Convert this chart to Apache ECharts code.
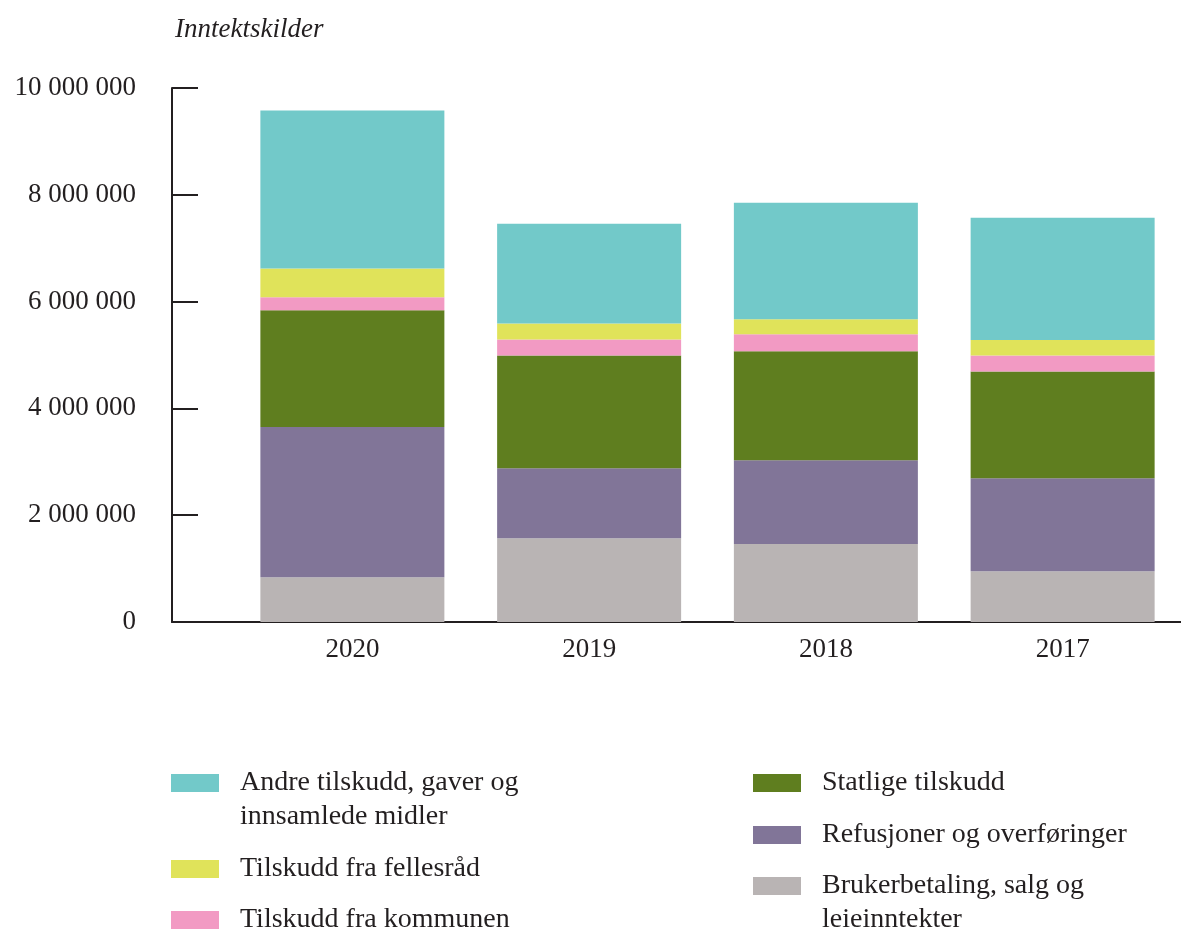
<!DOCTYPE html>
<html>
<head>
  <meta charset="utf-8">
  <title>Inntektskilder</title>
  <script src="https://cdn.jsdelivr.net/npm/echarts@6/dist/echarts.min.js"></script>
  <style>
    html, body { margin: 0; padding: 0; background: #fff; }
  </style>
</head>
<body>
<div id="main" style="width: 1181px;height:931px;"></div>
<script type="text/javascript">
  // data, stacked from the bottom
  var years = ['2020', '2019', '2018', '2017'];
  var seriesNames = [
    'Brukerbetaling, salg og leieinntekter',
    'Refusjoner og overføringer',
    'Statlige tilskudd',
    'Tilskudd fra kommunen',
    'Tilskudd fra fellesråd',
    'Andre tilskudd, gaver og innsamlede midler'
  ];
  var brukerbetaling = [840000, 1570000, 1460000, 950000];
  var refusjoner     = [2810000, 1310000, 1570000, 1740000];
  var statlige       = [2190000, 2110000, 2040000, 2000000];
  var kommunen       = [240000, 300000, 320000, 300000];
  var fellesraad     = [540000, 300000, 280000, 290000];
  var andre          = [2960000, 1870000, 2180000, 2290000];
  var yTicks = [0, 2000000, 4000000, 6000000, 8000000, 10000000];

  var seriesData = [brukerbetaling, refusjoner, statlige, kommunen, fellesraad, andre];
  var colors = ['#b9b4b4', '#817598', '#5f7e1f', '#f29ac3', '#e0e35a', '#72c9c9'];
  // leading blank line keeps the swatch level with the first text line
  var legendText = {
    'Andre tilskudd, gaver og innsamlede midler': '\nAndre tilskudd, gaver og\ninnsamlede midler',
    'Brukerbetaling, salg og leieinntekter': '\nBrukerbetaling, salg og\nleieinntekter'
  };

  var ink = '#231f20';
  var font = '"Liberation Serif", "DejaVu Serif", serif';

  // one legend per entry: [series index, left, top]
  var legendLayout = [
    [5, 171, 732],
    [4, 171, 852],
    [3, 171, 903],
    [2, 753, 766],
    [1, 753, 818],
    [0, 753, 835]
  ];

  var myChart = echarts.init(document.getElementById('main'));

  var option = {
    animation: false,
    title: {
      text: 'Inntektskilder',
      left: 170,
      top: 11,
      textStyle: { fontFamily: font, fontStyle: 'italic', fontWeight: 'normal', fontSize: 27, color: ink }
    },
    grid: [
      { left: 234, right: 0, top: 88, bottom: 309 },
      { left: 172, right: 0, top: 88, bottom: 309 }
    ],
    xAxis: [
      {
        type: 'category',
        gridIndex: 0,
        data: years,
        axisLine: { show: false },
        axisTick: { show: false },
        axisLabel: { fontFamily: font, fontSize: 27, color: ink, margin: 14 }
      },
      {
        type: 'value',
        gridIndex: 1,
        axisLine: { show: true, lineStyle: { color: ink, width: 2 } },
        axisTick: { show: false },
        axisLabel: { show: false },
        splitLine: { show: false }
      }
    ],
    yAxis: [
      {
        type: 'value',
        gridIndex: 0,
        min: yTicks[0],
        max: yTicks[yTicks.length - 1],
        show: false
      },
      {
        type: 'value',
        gridIndex: 1,
        min: yTicks[0],
        max: yTicks[yTicks.length - 1],
        interval: yTicks[1] - yTicks[0],
        axisLine: { show: true, lineStyle: { color: ink, width: 2 } },
        axisTick: { show: true, inside: true, length: 26, lineStyle: { color: ink, width: 2 } },
        splitLine: { show: false },
        axisLabel: {
          fontFamily: font, fontSize: 27, color: ink, margin: 36,
          formatter: function (v) {
            return String(v).replace(/\B(?=(\d{3})+(?!\d))/g, ' ');
          }
        }
      }
    ],
    legend: legendLayout.map(function (l) {
      return {
        data: [seriesNames[l[0]]],
        left: l[1],
        top: l[2],
        padding: 0,
        icon: 'rect',
        itemWidth: 48,
        itemHeight: 18,
        selectedMode: false,
        formatter: function (n) { return legendText[n] || n; },
        textStyle: {
          fontFamily: font, fontSize: 28, color: ink, lineHeight: 34,
          padding: [0, 0, 0, 16]
        }
      };
    }),
    series: seriesNames.map(function (name, i) {
      return {
        name: name,
        type: 'bar',
        stack: 'total',
        xAxisIndex: 0,
        yAxisIndex: 0,
        barWidth: 184,
        itemStyle: { color: colors[i] },
        data: seriesData[i]
      };
    })
  };

  myChart.setOption(option);
</script>
</body>
</html>
